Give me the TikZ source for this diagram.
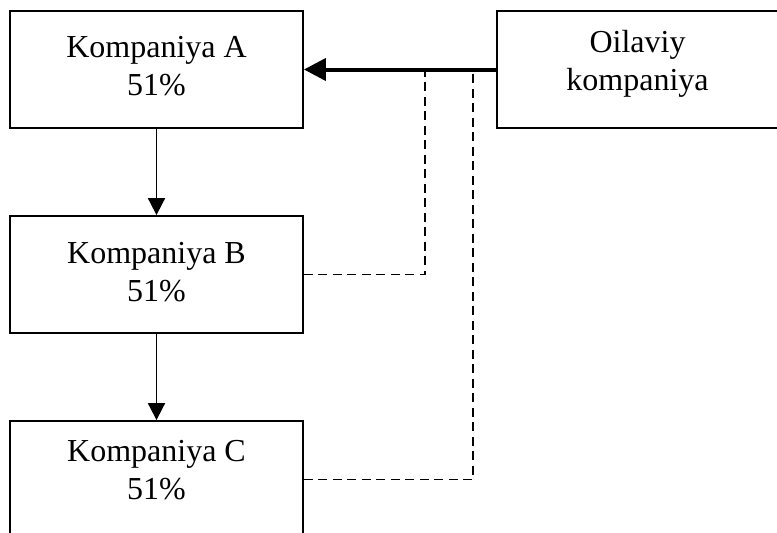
\documentclass[tikz,border=0pt]{standalone}
\usepackage{fontspec}
\setmainfont{Liberation Serif}
\usetikzlibrary{arrows.meta}
\newcommand{\dep}[1]{\rule[-#1]{0pt}{0pt}}
\begin{document}
\begin{tikzpicture}[x=1pt,y=-1pt,
  box/.style={draw=black, line width=1.8pt, minimum height=117pt, align=center,
    inner sep=0pt, font=\fontsize{32}{38}\selectfont},
  thickarrow/.style={line width=4pt, -{Triangle[length=22pt,width=22pt]}},
  thinarrow/.style={line width=1.8pt, -{Triangle[length=17pt,width=17pt]}},
  dashline/.style={line width=1.8pt, dash pattern=on 9pt off 5.5pt}]
\useasboundingbox (0,0) rectangle (777,533);
\clip (0,0) rectangle (777,533);
\fill[white] (0,0) rectangle (777,533);
\node[box, minimum width=293pt] (A) at (156.5,69.5) {Kompaniya A\\51\%\dep{8pt}};
\node[box, minimum width=293pt] (B) at (156.5,274.5) {Kompaniya B\\51\%\dep{6pt}};
\node[box, minimum width=293pt] (C) at (156.5,479.5) {Kompaniya C\\51\%\dep{20pt}};
\node[box, minimum width=281pt] (O) at (637.5,69.5) {Oilaviy\\kompaniya\dep{19pt}};
\coordinate (j1) at (425,69.5);
\coordinate (j2) at (473,69.5);
\draw[thickarrow] (O.west) -- (A.east);
\draw[thinarrow] (A.south) -- (B.north);
\draw[thinarrow] (B.south) -- (C.north);
\draw[dashline] (B.east) -| (j1);
\draw[dashline] (C.east) -| (j2);
\end{tikzpicture}
\end{document}
